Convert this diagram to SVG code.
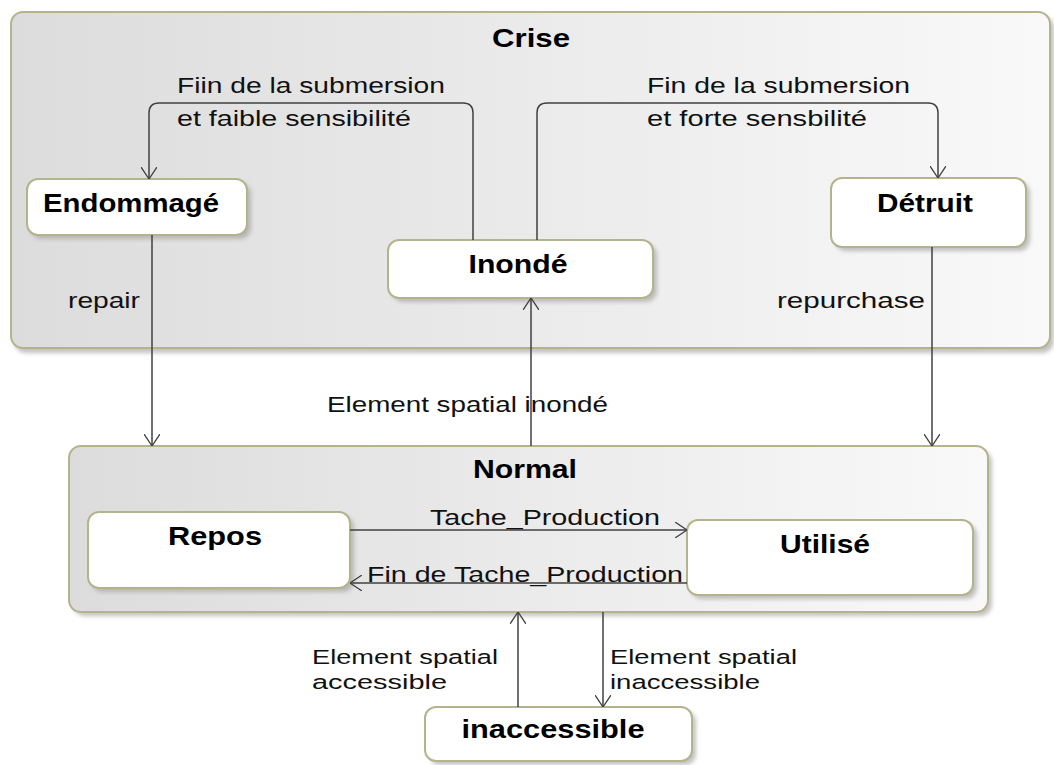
<svg xmlns="http://www.w3.org/2000/svg" width="1054" height="765" viewBox="0 0 1054 765">
  <defs>
    <linearGradient id="cont" x1="0" y1="0" x2="1" y2="0">
      <stop offset="0" stop-color="#dcdcdc"/>
      <stop offset="1" stop-color="#f9f9f9"/>
    </linearGradient>
    <filter id="sh" x="-10%" y="-10%" width="130%" height="140%">
      <feGaussianBlur stdDeviation="2"/>
    </filter>
    <marker id="arr" viewBox="0 0 12 16" refX="12" refY="8" markerWidth="12" markerHeight="16" markerUnits="userSpaceOnUse" orient="auto">
      <path d="M0,0 L12,8 L0,16" fill="none" stroke="#404040" stroke-width="1.3"/>
    </marker>
    <style>
      .cont { fill: url(#cont); stroke: #b4b48c; stroke-width: 2; }
      .node { fill: #ffffff; stroke: #b4b48c; stroke-width: 2; }
      .shadow { fill: #9a9a9a; opacity: 0.6; filter: url(#sh); }
      .title { font-family: "Liberation Sans", Arial, sans-serif; font-weight: bold; font-size: 26px; fill: #000; text-anchor: middle; }
      .lbl { font-family: "Liberation Sans", Arial, sans-serif; font-size: 22px; fill: #111; }
      .lbl2 { font-family: "Liberation Sans", Arial, sans-serif; font-size: 20.5px; fill: #111; }
      .edge { fill: none; stroke: #404040; stroke-width: 1.5; marker-end: url(#arr); }
    </style>
  </defs>
  <rect width="1054" height="765" fill="#ffffff"/>

  <g id="crise">
    <rect class="shadow" x="14" y="16" width="1040" height="337" rx="12"/>
    <rect class="cont" x="11" y="12" width="1039" height="336" rx="12"/>
    <text class="title" x="531" y="47" textLength="78" lengthAdjust="spacingAndGlyphs">Crise</text>
  </g>

  <g id="normal">
    <rect class="shadow" x="73" y="450" width="919" height="166" rx="12"/>
    <rect class="cont" x="69" y="446" width="919" height="166" rx="12"/>
    <text class="title" x="525" y="478" textLength="104" lengthAdjust="spacingAndGlyphs">Normal</text>
  </g>

  <g id="endommage">
    <rect class="shadow" x="31" y="183" width="220" height="56" rx="11"/>
    <rect class="node" x="27" y="179" width="220" height="56" rx="11"/>
    <text class="title" x="131" y="212" textLength="176" lengthAdjust="spacingAndGlyphs">Endommagé</text>
  </g>

  <g id="inonde">
    <rect class="shadow" x="392" y="244" width="265" height="58" rx="11"/>
    <rect class="node" x="388" y="240" width="265" height="58" rx="11"/>
    <text class="title" x="518" y="273" textLength="99" lengthAdjust="spacingAndGlyphs">Inondé</text>
  </g>

  <g id="detruit">
    <rect class="shadow" x="835" y="182" width="195" height="69" rx="11"/>
    <rect class="node" x="831" y="178" width="195" height="69" rx="11"/>
    <text class="title" x="925" y="212" textLength="96" lengthAdjust="spacingAndGlyphs">Détruit</text>
  </g>

  <g id="repos">
    <rect class="shadow" x="92" y="516" width="262" height="76" rx="11"/>
    <rect class="node" x="88" y="512" width="262" height="76" rx="11"/>
    <text class="title" x="215" y="545" textLength="94" lengthAdjust="spacingAndGlyphs">Repos</text>
  </g>

  <g id="utilise">
    <rect class="shadow" x="691" y="524" width="286" height="75" rx="11"/>
    <rect class="node" x="687" y="520" width="286" height="75" rx="11"/>
    <text class="title" x="825" y="553" textLength="90" lengthAdjust="spacingAndGlyphs">Utilisé</text>
  </g>

  <g id="inaccessible">
    <rect class="shadow" x="429" y="711" width="267" height="54" rx="11"/>
    <rect class="node" x="425" y="707" width="267" height="54" rx="11"/>
    <text class="title" x="553" y="738" textLength="183" lengthAdjust="spacingAndGlyphs">inaccessible</text>
  </g>

  <g id="connectors">
    <path class="edge" d="M473,240 V113 Q473,103 463,103 H159 Q149,103 149,113 V179"/>
    <path class="edge" d="M537,240 V113 Q537,103 547,103 H928 Q938,103 938,113 V178"/>
    <path class="edge" d="M152,235 V446"/>
    <path class="edge" d="M932,247 V446"/>
    <path class="edge" d="M531,446 V298"/>
    <path class="edge" d="M350,530 H687"/>
    <path class="edge" d="M687,583 H350"/>
    <path class="edge" d="M518,707 V612"/>
    <path class="edge" d="M603,612 V707"/>

    <text class="lbl" x="177" y="93" textLength="268" lengthAdjust="spacingAndGlyphs">Fiin de la submersion</text>
    <text class="lbl" x="177" y="126" textLength="234" lengthAdjust="spacingAndGlyphs">et faible sensibilité</text>
    <text class="lbl" x="647" y="93" textLength="263" lengthAdjust="spacingAndGlyphs">Fin de la submersion</text>
    <text class="lbl" x="647" y="126" textLength="220" lengthAdjust="spacingAndGlyphs">et forte sensbilité</text>
    <text class="lbl" x="68" y="308" textLength="72" lengthAdjust="spacingAndGlyphs">repair</text>
    <text class="lbl" x="777" y="308" textLength="148" lengthAdjust="spacingAndGlyphs">repurchase</text>
    <text class="lbl" x="327" y="412" textLength="281" lengthAdjust="spacingAndGlyphs">Element spatial inondé</text>
    <text class="lbl" x="430" y="525" textLength="230" lengthAdjust="spacingAndGlyphs">Tache_Production</text>
    <text class="lbl" x="367" y="582" textLength="316" lengthAdjust="spacingAndGlyphs">Fin de Tache_Production</text>
    <text class="lbl2" x="312" y="664" textLength="186" lengthAdjust="spacingAndGlyphs">Element spatial</text>
    <text class="lbl2" x="312" y="689" textLength="135" lengthAdjust="spacingAndGlyphs">accessible</text>
    <text class="lbl2" x="610" y="664" textLength="187" lengthAdjust="spacingAndGlyphs">Element spatial</text>
    <text class="lbl2" x="610" y="689" textLength="150" lengthAdjust="spacingAndGlyphs">inaccessible</text>
  </g>
</svg>
